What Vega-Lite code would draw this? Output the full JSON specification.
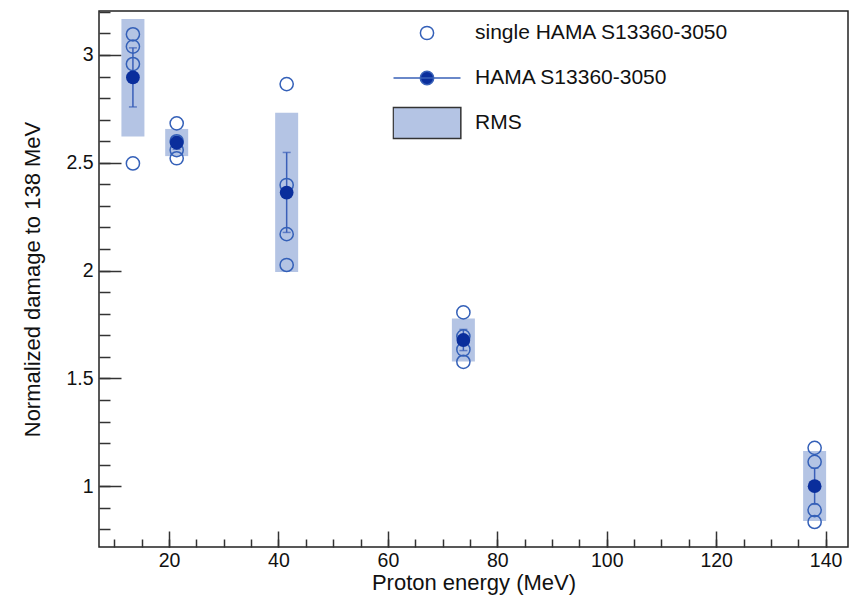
{
  "$schema": "https://vega.github.io/schema/vega-lite/v6.json",
  "width": 749,
  "height": 536,
  "autosize": {"type": "none"},
  "padding": {"left": 99, "top": 11, "right": 12, "bottom": 49},
  "background": "white",
  "config": {"view": {"stroke": "#222222", "strokeWidth": 1.5}, "font": "Liberation Sans"},
  "datasets": {
    "singles": [
      {"energy": 13.4, "value": 3.096}, {"energy": 13.4, "value": 3.039}, {"energy": 13.4, "value": 2.958}, {"energy": 13.4, "value": 2.497},
      {"energy": 21.4, "value": 2.683}, {"energy": 21.4, "value": 2.600}, {"energy": 21.4, "value": 2.559}, {"energy": 21.4, "value": 2.521},
      {"energy": 41.5, "value": 2.865}, {"energy": 41.5, "value": 2.397}, {"energy": 41.5, "value": 2.169}, {"energy": 41.5, "value": 2.026},
      {"energy": 73.8, "value": 1.806}, {"energy": 73.8, "value": 1.695}, {"energy": 73.8, "value": 1.634}, {"energy": 73.8, "value": 1.577},
      {"energy": 138, "value": 1.178}, {"energy": 138, "value": 1.113}, {"energy": 138, "value": 0.889}, {"energy": 138, "value": 0.834}
    ],
    "means": [
      {"energy": 13.4, "mean": 2.896, "err_lo": 2.759, "err_hi": 3.033, "rms_lo": 2.622, "rms_hi": 3.167},
      {"energy": 21.4, "mean": 2.593, "err_lo": 2.563, "err_hi": 2.623, "rms_lo": 2.531, "rms_hi": 2.657},
      {"energy": 41.5, "mean": 2.362, "err_lo": 2.177, "err_hi": 2.548, "rms_lo": 1.994, "rms_hi": 2.732},
      {"energy": 73.8, "mean": 1.678, "err_lo": 1.629, "err_hi": 1.727, "rms_lo": 1.578, "rms_hi": 1.778},
      {"energy": 138, "mean": 1.0, "err_lo": 0.916, "err_hi": 1.084, "rms_lo": 0.839, "rms_hi": 1.163}
    ],
    "legend": [
      {"series": "single HAMA S13360-3050"},
      {"series": "HAMA S13360-3050"},
      {"series": "RMS"}
    ]
  },
  "layer": [
    {
      "data": {"name": "means"},
      "mark": {"type": "bar", "width": 23, "color": "#b4c4e4"},
      "encoding": {
        "x": {
          "field": "energy", "type": "quantitative",
          "scale": {"domain": [7.2, 144.1], "nice": false, "zero": false, "padding": 0},
          "axis": {
            "orient": "bottom", "values": [20, 40, 60, 80, 100, 120, 140], "format": "d",
            "tickSize": -16, "tickWidth": 1.5, "tickColor": "#333333", "domain": false, "grid": false,
            "labelFont": "Liberation Sans", "labelFontSize": 19.5, "labelColor": "#111111", "labelPadding": 20,
            "labelFlush": false, "labelOverlap": false,
            "title": "Proton energy (MeV)", "titleFont": "Liberation Sans", "titleFontSize": 22,
            "titleFontWeight": "normal", "titleColor": "#111111", "titlePadding": 3
          }
        },
        "y": {
          "field": "rms_lo", "type": "quantitative",
          "scale": {"domain": [0.718, 3.204], "nice": false, "zero": false, "padding": 0},
          "axis": {
            "orient": "left", "values": [1, 1.5, 2, 2.5, 3], "format": "~g",
            "tickSize": -22, "tickWidth": 1.5, "tickColor": "#333333", "domain": false, "grid": false,
            "labelFont": "Liberation Sans", "labelFontSize": 19.5, "labelColor": "#111111", "labelPadding": 28,
            "labelFlush": false, "labelOverlap": false,
            "title": "Normalized damage to 138 MeV", "titleFont": "Liberation Sans", "titleFontSize": 22,
            "titleFontWeight": "normal", "titleColor": "#111111", "titlePadding": 21
          }
        },
        "y2": {"field": "rms_hi"}
      }
    },
    {
      "data": {"name": "means"},
      "mark": {"type": "errorbar", "color": "#3a5fb8", "thickness": 1.5, "ticks": {"size": 8}},
      "encoding": {
        "x": {"field": "energy", "type": "quantitative", "axis": null},
        "y": {"field": "err_lo", "type": "quantitative", "axis": null},
        "y2": {"field": "err_hi"}
      }
    },
    {
      "data": {"name": "singles"},
      "mark": {"type": "point", "filled": false, "size": 174, "strokeWidth": 1.5, "color": "#3460b8", "opacity": 1},
      "encoding": {
        "x": {
          "field": "energy", "type": "quantitative",
          "axis": {
            "orient": "bottom",
            "values": [10, 15, 20, 25, 30, 35, 40, 45, 50, 55, 60, 65, 70, 75, 80, 85, 90, 95, 100, 105, 110, 115, 120, 125, 130, 135, 140],
            "tickSize": -8, "tickWidth": 1.5, "tickColor": "#333333", "domain": false, "grid": false,
            "labels": false, "title": null
          }
        },
        "y": {
          "field": "value", "type": "quantitative",
          "axis": {
            "orient": "left",
            "values": [0.8, 0.9, 1, 1.1, 1.2, 1.3, 1.4, 1.5, 1.6, 1.7, 1.8, 1.9, 2, 2.1, 2.2, 2.3, 2.4, 2.5, 2.6, 2.7, 2.8, 2.9, 3, 3.1, 3.2],
            "tickSize": -11, "tickWidth": 1.5, "tickColor": "#333333", "domain": false, "grid": false,
            "labels": false, "title": null
          }
        }
      }
    },
    {
      "data": {"name": "means"},
      "mark": {"type": "circle", "size": 190, "color": "#0a2e9c", "opacity": 1},
      "encoding": {
        "x": {"field": "energy", "type": "quantitative", "axis": null},
        "y": {"field": "mean", "type": "quantitative", "axis": null}
      }
    },
    {
      "data": {"name": "legend"},
      "mark": {"type": "point", "filled": true, "opacity": 1},
      "encoding": {
        "x": {"field": "energy", "type": "quantitative", "axis": null},
        "y": {"field": "value", "type": "quantitative", "axis": null},
        "fill": {
          "field": "series", "type": "nominal",
          "scale": {"domain": ["single HAMA S13360-3050", "HAMA S13360-3050", "RMS"], "range": ["transparent", "#0a2e9c", "#b4c4e4"]},
          "legend": {"orient": "none", "legendX": 293.5, "legendY": 5, "title": null, "padding": 0, "symbolOffset": 0, "symbolSize": 4489, "symbolStrokeWidth": 1.5, "symbolOpacity": 1, "clipHeight": 34, "labelFont": "Liberation Sans", "labelFontSize": 21, "labelColor": "#111111", "labelOffset": 13.5, "labelLimit": 400, "rowPadding": 11, "direction": "vertical"}
        },
        "stroke": {
          "field": "series", "type": "nominal",
          "scale": {"domain": ["single HAMA S13360-3050", "HAMA S13360-3050", "RMS"], "range": ["#3460b8", "#3a62b8", "#333333"]},
          "legend": {"orient": "none", "legendX": 293.5, "legendY": 5, "title": null, "padding": 0, "symbolOffset": 0, "symbolSize": 4489, "symbolStrokeWidth": 1.5, "symbolOpacity": 1, "clipHeight": 34, "labelFont": "Liberation Sans", "labelFontSize": 21, "labelColor": "#111111", "labelOffset": 13.5, "labelLimit": 400, "rowPadding": 11, "direction": "vertical"}
        },
        "shape": {
          "field": "series", "type": "nominal",
          "scale": {
            "domain": ["single HAMA S13360-3050", "HAMA S13360-3050", "RMS"],
            "range": [
              "M-0.197,0A0.197,0.197 0 1,0 0.197,0A0.197,0.197 0 1,0 -0.197,0Z",
              "M-1,0L1,0M-0.2,0A0.2,0.2 0 1,0 0.2,0A0.2,0.2 0 1,0 -0.2,0Z",
              "M-1.01,-0.463L1.01,-0.463L1.01,0.463L-1.01,0.463Z"
            ]
          },
          "legend": {"orient": "none", "legendX": 293.5, "legendY": 5, "title": null, "padding": 0, "symbolOffset": 0, "symbolSize": 4489, "symbolStrokeWidth": 1.5, "symbolOpacity": 1, "clipHeight": 34, "labelFont": "Liberation Sans", "labelFontSize": 21, "labelColor": "#111111", "labelOffset": 13.5, "labelLimit": 400, "rowPadding": 11, "direction": "vertical"}
        }
      }
    }
  ],
  "resolve": {"axis": {"x": "independent", "y": "independent"}}
}
